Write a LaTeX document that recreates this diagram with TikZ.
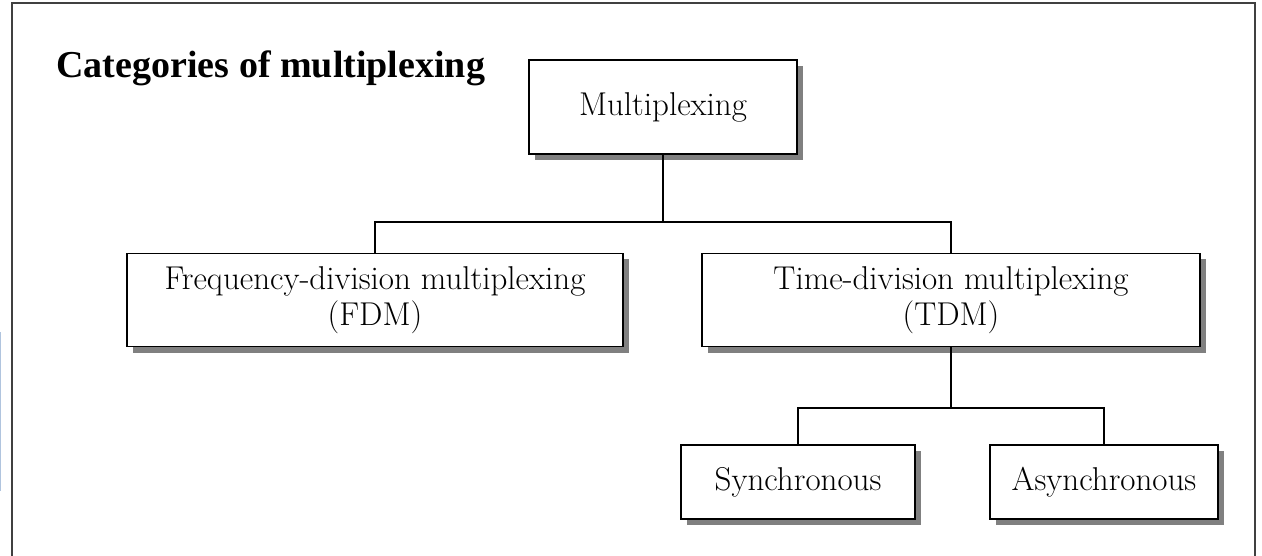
\documentclass[tikz,border=0pt]{standalone}
\usepackage{fontspec}
\newfontfamily\titlefont{Liberation Serif}
\usetikzlibrary{shadows}
\definecolor{edgeblue}{RGB}{176,196,222}
\begin{document}
\begin{tikzpicture}[x=1pt, y=-1pt,
    every node/.style={font=\fontsize{33}{36}\selectfont},
    box/.style={draw, line width=1.6pt, fill=white, align=center, inner sep=0pt,
        drop shadow={shadow xshift=6pt, shadow yshift=-6pt, fill=black!50, opacity=1}},
    link/.style={line width=1.3pt}]
    \useasboundingbox (0,0) rectangle (1262,556);
    % frame, open at the bottom
    \draw[black!75, line width=2.5pt] (12,556) -- (12,3) -- (1255,3) -- (1255,556);
    \draw[edgeblue, line width=1.5pt] (0.5,332) -- (0.5,491);
    \node[anchor=base west, font=\titlefont\bfseries\fontsize{38}{40}\selectfont] (title) at (53,78) {Categories of multiplexing};

    % boxes
    \node[box, minimum width=268pt, minimum height=94pt] (mux) at (663,107) {Multiplexing};
    \node[box, minimum width=496pt, minimum height=93pt] (fdm) at (375,300) {Frequency-division multiplexing\\(FDM)};
    \node[box, minimum width=498pt, minimum height=93pt] (tdm) at (951,300) {Time-division multiplexing\\(TDM)};
    \node[box, minimum width=234pt, minimum height=74pt] (sync) at (798,482) {Synchronous};
    \node[box, minimum width=228pt, minimum height=74pt] (async) at (1104,482) {Asynchronous};

    % connectors
    \coordinate (split1) at (663,222);
    \coordinate (split2) at (951,408);
    \draw[link] (mux.south) -- (split1);
    \draw[link] (fdm.north) |- (split1) -| (tdm.north);
    \draw[link] (tdm.south) -- (split2);
    \draw[link] (sync.north) |- (split2) -| (async.north);
\end{tikzpicture}
\end{document}
